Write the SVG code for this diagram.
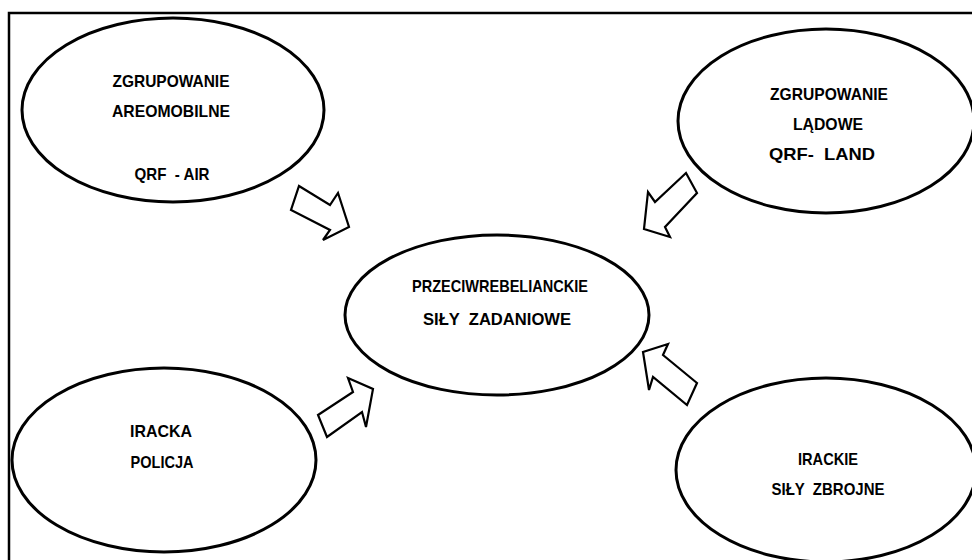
<svg xmlns="http://www.w3.org/2000/svg" width="972" height="560" viewBox="0 0 972 560">
<style>
.n{fill:#fff;stroke:#000;stroke-width:3}
.a{fill:#fff;stroke:#000;stroke-width:2.2;stroke-linejoin:miter}
text{font-family:"Liberation Sans",Arial,sans-serif;font-weight:bold;font-size:17px;fill:#000;text-anchor:middle}
</style>
<rect x="0" y="0" width="972" height="560" fill="#fff"/>
<rect x="9" y="13" width="990" height="580" fill="none" stroke="#000" stroke-width="2.5"/>
<g id="connectors">
<polygon class="a" points="299,186 330,205 338,193 349,227 323,240 330,230 291,210"/>
<polygon class="a" points="686,173 655,202 648,192 644,229 670,237 665,227 697,193"/>
<polygon class="a" points="318,415 353,392 348,378 373,389 366,427 362,412 327,437"/>
<polygon class="a" points="697,383 663,355 668,344 643,352 649,390 653,377 687,405"/>
</g>
<g id="n1">
<ellipse class="n" cx="173" cy="110" rx="151" ry="92"/>
<text x="171" y="87" textLength="117" lengthAdjust="spacingAndGlyphs">ZGRUPOWANIE</text>
<text x="171" y="117" textLength="118" lengthAdjust="spacingAndGlyphs">AREOMOBILNE</text>
<text x="172" y="180" textLength="75" lengthAdjust="spacingAndGlyphs" xml:space="preserve">QRF  - AIR</text>
</g>
<g id="n2">
<ellipse class="n" cx="826" cy="121" rx="148" ry="92"/>
<text x="829" y="100" textLength="118" lengthAdjust="spacingAndGlyphs">ZGRUPOWANIE</text>
<text x="828" y="130" textLength="70" lengthAdjust="spacingAndGlyphs">LĄDOWE</text>
<text x="822" y="160" textLength="106" lengthAdjust="spacingAndGlyphs" xml:space="preserve">QRF-  LAND</text>
</g>
<g id="n3">
<ellipse class="n" cx="497" cy="315" rx="152" ry="80"/>
<text x="500" y="292" textLength="176" lengthAdjust="spacingAndGlyphs">PRZECIWREBELIANCKIE</text>
<text x="497" y="325" textLength="148" lengthAdjust="spacingAndGlyphs" xml:space="preserve">SIŁY  ZADANIOWE</text>
</g>
<g id="n4">
<ellipse class="n" cx="164" cy="460" rx="152" ry="92"/>
<text x="161" y="437" textLength="62" lengthAdjust="spacingAndGlyphs">IRACKA</text>
<text x="162" y="468" textLength="63" lengthAdjust="spacingAndGlyphs">POLICJA</text>
</g>
<g id="n5">
<ellipse class="n" cx="826" cy="470" rx="150" ry="92"/>
<text x="828" y="465" textLength="60" lengthAdjust="spacingAndGlyphs">IRACKIE</text>
<text x="828" y="495" textLength="113" lengthAdjust="spacingAndGlyphs" xml:space="preserve">SIŁY  ZBROJNE</text>
</g>
</svg>
